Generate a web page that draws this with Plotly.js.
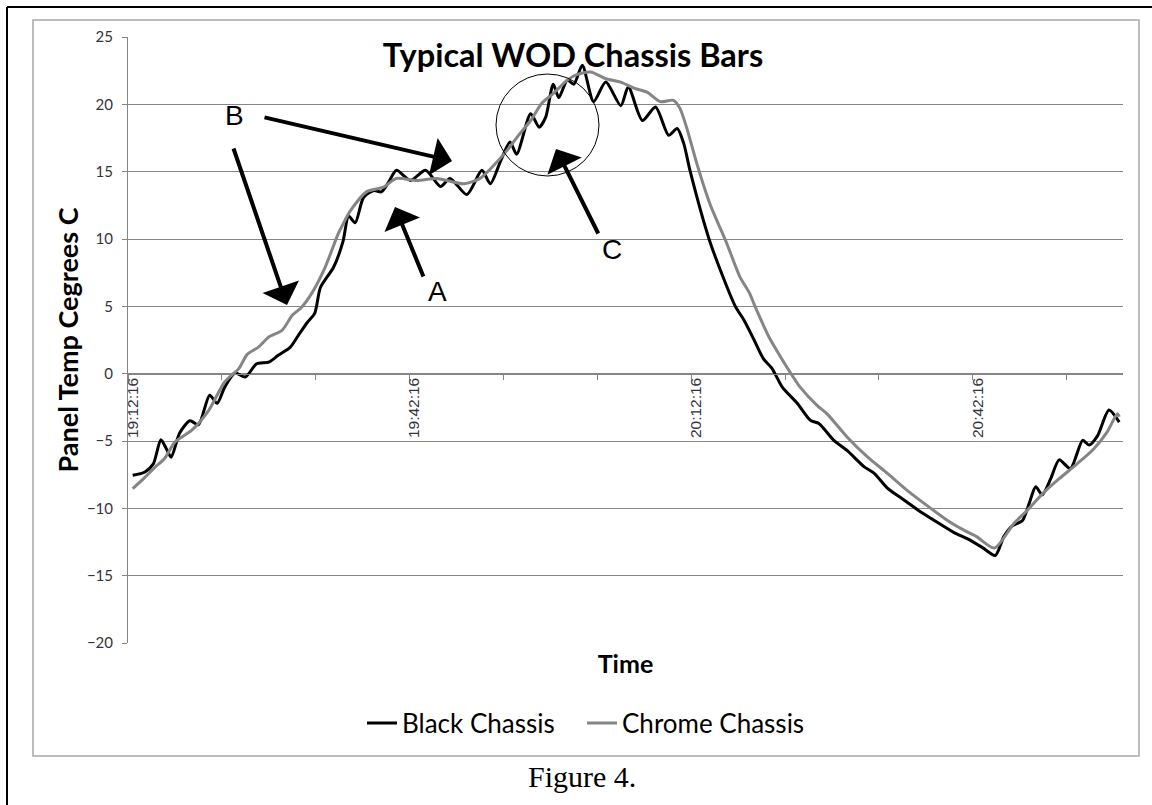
<!DOCTYPE html>
<html>
<head>
<meta charset="utf-8">
<script src="https://cdn.plot.ly/plotly-3.0.1.min.js"></script>
<style>
  html, body { margin: 0; padding: 0; background: #ffffff; }
  #chart { width: 1152px; height: 805px; }
</style>
</head>
<body>
<div id="chart"></div>
<script>
// ---- data (minutes after 19:12:16, temperature in °C) ----
const blackMinutes = [0,1.3,2.2,3.0,3.6,4.1,5.0,6.1,7.0,8.2,9.0,9.8,10.9,12.0,13.2,14.5,15.5,16.8,17.7,18.6,19.4,20.0,21.4,22.4,23.0,23.7,24.6,25.7,26.5,27.25,28.1,29.6,31.2,32.8,33.8,35.6,37.2,38.1,39.2,40.2,40.9,42.4,43.3,44.0,44.8,45.4,46.3,47.0,47.9,49.1,50.4,52.0,52.8,54.3,55.7,57.1,58.0,58.7,59.4,61.4,62.6,64.2,65.1,66.2,67.2,68.1,69.2,70.8,72.2,73.1,74.7,76.1,77.9,79.0,80.4,81.8,83.6,85.4,87.5,88.9,90.5,91.9,92.8,93.7,94.8,95.5,96.2,96.9,97.8,98.7,99.9,101.2,101.9,102.8,104.0,105.1];
const blackTemp = [-7.55,-7.3,-6.7,-4.9,-5.6,-6.2,-4.4,-3.5,-3.8,-1.6,-2.2,-1.0,0.05,-0.25,0.74,0.86,1.36,1.97,2.9,3.8,4.5,6.4,7.9,9.8,11.7,11.2,13.1,13.6,13.5,14.2,15.1,14.35,15.1,13.9,14.5,13.3,15.1,14.1,15.8,17.2,16.3,19.3,18.3,19.05,21.5,20.5,21.8,21.5,22.9,20.2,21.65,19.9,21.3,18.8,19.8,17.7,18.2,17.1,15.0,10.0,7.7,5.0,4.0,2.5,1.1,0.4,-1.0,-2.2,-3.47,-3.7,-4.95,-5.7,-6.9,-7.4,-8.5,-9.2,-10.1,-10.9,-11.8,-12.25,-12.9,-13.5,-12.1,-11.3,-10.9,-9.65,-8.4,-9.0,-7.8,-6.4,-7.05,-4.95,-5.3,-4.6,-2.7,-3.6];

const chromeMinutes = [0,1.3,2.4,3.4,4.5,6.3,8.1,9.8,11.3,12.2,13.4,14.5,15.9,17.0,18.0,19.1,20.5,21.9,22.4,23.2,24.9,26.7,28.1,30.3,32.4,35.3,37.0,38.1,39.9,41.1,42.4,43.6,44.8,46.3,47.3,48.8,50.4,52.0,53.4,54.8,56.2,57.6,58.3,59.0,60.1,61.5,63.3,64.7,65.7,66.3,67.8,68.8,69.9,70.6,71.1,72.9,74.0,76.1,78.3,80.4,82.5,84.6,86.8,88.5,89.9,91.8,93.9,95.3,97.1,98.7,100.6,102.4,103.8,104.9,105.1];
const chromeTemp = [-8.54,-7.7,-6.93,-6.3,-5.08,-4.2,-2.72,-0.62,0.37,1.43,1.97,2.72,3.21,4.33,4.94,6.0,7.9,10.4,11.1,12.1,13.5,13.85,14.5,14.35,14.5,14.1,14.5,15.2,16.6,17.7,18.8,20.1,20.8,21.8,22.2,22.4,21.9,21.65,21.2,20.9,20.2,20.3,19.7,18.3,15.6,12.6,9.65,7.17,6.0,5.0,2.7,1.5,0.25,-0.5,-1.0,-2.35,-3.0,-4.7,-6.2,-7.4,-8.66,-9.78,-10.9,-11.6,-12.1,-12.95,-11.1,-10.15,-8.8,-7.8,-6.7,-5.57,-4.34,-2.97,-3.2];

const timeLabelMinutes = [0, 30, 60, 90];
const timeLabels = ['19:12:16', '19:42:16', '20:12:16', '20:42:16'];
const seriesNames = ['Black Chassis', 'Chrome Chassis'];

// ---- layout helpers (pixel -> paper) ----
const W = 1152, H = 805, PL = 128, PR = 1123, PT = 37, PB = 643;
const fx = px => (px - PL) / (PR - PL);
const fy = py => (PB - py) / (PB - PT);
const gridGrey = '#868686';
const calibri = 'Lato, "Open Sans", sans-serif';

const tickMarkVals = [];
for (let m = -0.5; m <= 105; m += 10) tickMarkVals.push(m);

const traces = [
  { x: blackMinutes, y: blackTemp, name: seriesNames[0], type: 'scatter', mode: 'lines', legend: 'legend',
    line: { color: '#000000', width: 3, shape: 'spline', smoothing: 0.7 }, xaxis: 'x', yaxis: 'y' },
  { x: chromeMinutes, y: chromeTemp, name: seriesNames[1], type: 'scatter', mode: 'lines', legend: 'legend2',
    line: { color: '#858585', width: 3, shape: 'spline', smoothing: 0.7 }, xaxis: 'x', yaxis: 'y' },
  { x: [], y: [], xaxis: 'x2', yaxis: 'y', showlegend: false, hoverinfo: 'skip' },
  { x: [], y: [], xaxis: 'x3', yaxis: 'y', showlegend: false, hoverinfo: 'skip' }
];

function arrow(tipX, tipY, tailX, tailY) {
  return { xref: 'paper', yref: 'paper', x: fx(tipX), y: fy(tipY), ax: tailX - tipX, ay: tailY - tipY,
    axref: 'pixel', ayref: 'pixel', text: '', showarrow: true, arrowhead: 1, arrowsize: 1.6,
    arrowwidth: 4, arrowcolor: '#000000', standoff: 0, startstandoff: 0 };
}
function letter(t, px, py) {
  return { xref: 'paper', yref: 'paper', x: fx(px), y: fy(py), text: t, showarrow: false,
    xanchor: 'center', yanchor: 'middle', font: { family: '"Liberation Sans", Arial, sans-serif', size: 28, color: '#000000' } };
}
function legendAt(px) {
  return { orientation: 'h', x: fx(px), xanchor: 'left', y: fy(723), yanchor: 'middle',
    font: { family: calibri, size: 26, color: '#000000' }, bgcolor: 'rgba(0,0,0,0)' };
}

const layout = {
  width: W, height: H,
  margin: { l: PL, r: W - PR, t: PT, b: H - PB, pad: 0 },
  paper_bgcolor: '#ffffff', plot_bgcolor: '#ffffff',
  title: { text: 'Typical WOD Chassis Bars', x: 573 / W, xref: 'container', xanchor: 'center',
    y: 1 - 56 / H, yref: 'container', yanchor: 'middle',
    font: { family: calibri, size: 32.5, weight: 'bold', color: '#000000' } },
  xaxis: { range: [-0.5, 105.5], showgrid: false, zeroline: false, showline: false, ticks: '',
    showticklabels: false, fixedrange: true,
    title: { text: 'Time', standoff: 12, font: { family: calibri, size: 25, weight: 'bold', color: '#000000' } } },
  xaxis2: { overlaying: 'x', matches: 'x', anchor: 'free', position: 20 / 45, side: 'bottom',
    showgrid: false, zeroline: false, showline: true, linecolor: gridGrey, linewidth: 1,
    ticks: 'outside', ticklen: 5, tickcolor: gridGrey, tickwidth: 1,
    tickmode: 'array', tickvals: tickMarkVals, showticklabels: false },
  xaxis3: { overlaying: 'x', matches: 'x', anchor: 'free', position: 20 / 45, side: 'bottom',
    showgrid: false, zeroline: false, showline: false, ticks: '',
    tickmode: 'array', tickvals: timeLabelMinutes, ticktext: timeLabels, tickangle: -90,
    tickfont: { family: '"Liberation Sans", Arial, sans-serif', size: 15.5, color: '#333340' } },
  yaxis: { range: [-20, 25], tick0: 0, dtick: 5, showgrid: true, gridcolor: gridGrey, gridwidth: 1,
    zeroline: false, showline: true, linecolor: gridGrey, linewidth: 1,
    ticks: 'outside', ticklen: 5, tickcolor: gridGrey, tickwidth: 1, ticklabelstandoff: 6,
    tickfont: { family: calibri, size: 15, color: '#333340' }, fixedrange: true,
    title: { text: 'Panel Temp Cegrees C', standoff: 0, font: { family: calibri, size: 27, weight: 'bold', color: '#000000' } } },
  showlegend: true,
  legend: legendAt(362),
  legend2: legendAt(582),
  shapes: [
    { type: 'rect', xref: 'paper', yref: 'paper', x0: fx(33), x1: fx(1139), y0: fy(756), y1: fy(20),
      line: { color: '#a8a8a8', width: 1.5 }, layer: 'below' },
    { type: 'line', xref: 'paper', yref: 'paper', x0: fx(7), x1: fx(7), y0: fy(7), y1: fy(820),
      line: { color: '#000000', width: 2 } },
    { type: 'line', xref: 'paper', yref: 'paper', x0: fx(7), x1: fx(1170), y0: fy(7), y1: fy(7),
      line: { color: '#000000', width: 2 } },
    { type: 'circle', xref: 'paper', yref: 'paper', x0: fx(496), x1: fx(599), y0: fy(176), y1: fy(74),
      line: { color: '#000000', width: 1 } }
  ],
  annotations: [
    letter('B', 234, 116), letter('A', 437.5, 291), letter('C', 612, 249),
    arrow(452, 161, 263, 117), arrow(287, 305, 233, 147),
    arrow(395, 207, 424, 278), arrow(556, 149, 599, 235),
    { xref: 'paper', yref: 'paper', x: fx(582), y: fy(777), text: 'Figure 4.', showarrow: false,
      xanchor: 'center', yanchor: 'middle',
      font: { family: '"Liberation Serif", "Times New Roman", serif', size: 30, color: '#000000' } }
  ]
};

Plotly.newPlot('chart', traces, layout, { displayModeBar: false, staticPlot: true });
</script>
</body>
</html>
